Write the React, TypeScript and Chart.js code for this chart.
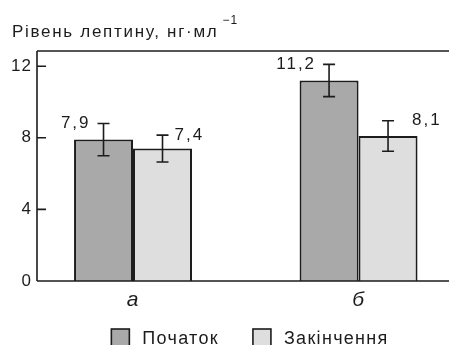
import React, { useEffect, useRef } from 'react';
import { Chart, registerables } from 'chart.js';

Chart.register(...registerables);

const categories = ['а', 'б'];
const seriesNames = ['Початок', 'Закінчення'];
const startValues = [7.9, 11.2];
const endValues = [7.4, 8.1];
const startErrors = [0.9, 0.9];
const endErrors = [0.75, 0.85];
const yTickValues = [0, 4, 8, 12];
const titleText = 'Рівень лептину, нг·мл';
const titleSup = '−1';

const FONT = '"Liberation Sans", Arial, Helvetica, sans-serif';
const INK = '#1c1c1c';
const FILLS = ['#a9a9a9', '#dedede'];
const LS = '1px';

const fmt = (v: number) => v.toFixed(1).replace('.', ',');

const setSpacing = (chart: any) => {
  try { chart.ctx.letterSpacing = LS; } catch (e) {}
};

const decor = {
  id: 'decor',
  beforeLayout(chart: any) { setSpacing(chart); },
  beforeDraw(chart: any) { setSpacing(chart); },
  afterDatasetsDraw(chart: any) {
    const ctx = chart.ctx as CanvasRenderingContext2D;
    const ys = chart.scales.y;
    const area = chart.chartArea;
    const errors = [startErrors, endErrors];
    ctx.save();
    ctx.strokeStyle = INK;
    ctx.lineWidth = 1.6;
    ctx.beginPath();
    ctx.moveTo(area.left, area.top);
    ctx.lineTo(area.right, area.top);
    ctx.moveTo(area.left, area.bottom);
    ctx.lineTo(area.right, area.bottom);
    ctx.moveTo(area.left, area.top);
    ctx.lineTo(area.left, area.bottom);
    yTickValues.forEach((v) => {
      const py = ys.getPixelForValue(v);
      ctx.moveTo(area.left, py);
      ctx.lineTo(area.left + 9, py);
    });
    ctx.stroke();

    chart.data.datasets.forEach((ds: any, di: number) => {
      const meta = chart.getDatasetMeta(di);
      meta.data.forEach((bar: any, i: number) => {
        const v = ds.data[i].y;
        const e = errors[di][i];
        const x = bar.x;
        const top = ys.getPixelForValue(v + e);
        const bot = ys.getPixelForValue(v - e);
        ctx.beginPath();
        ctx.lineWidth = 1.6;
        ctx.moveTo(x, top); ctx.lineTo(x, bot);
        ctx.moveTo(x - 6, top); ctx.lineTo(x + 6, top);
        ctx.moveTo(x - 6, bot); ctx.lineTo(x + 6, bot);
        ctx.stroke();
        ctx.fillStyle = INK;
        ctx.font = `17px ${FONT}`;
        (ctx as any).letterSpacing = '2px';
        ctx.textBaseline = 'middle';
        if (di === 0) {
          ctx.textAlign = 'right';
          ctx.fillText(fmt(v), x - 13, top);
        } else {
          ctx.textAlign = 'left';
          ctx.fillText(fmt(v), x + 12 + (i === 1 ? 12 : 0), top);
        }
      });
    });

    // title
    ctx.fillStyle = INK;
    ctx.textAlign = 'left';
    ctx.textBaseline = 'alphabetic';
    ctx.font = `17px ${FONT}`;
    (ctx as any).letterSpacing = '1.7px';
    ctx.fillText(titleText, 12, 37);
    const tw = ctx.measureText(titleText).width;
    ctx.font = `12px ${FONT}`;
    (ctx as any).letterSpacing = '1px';
    ctx.fillText(titleSup, 12 + tw + 4, 24);

    // legend
    ctx.font = `18px ${FONT}`;
    (ctx as any).letterSpacing = '1.3px';
    const widths = seriesNames.map((n) => ctx.measureText(n).width);
    const box = 18, gap = 13, itemGap = 34;
    const total = widths.reduce((a, w) => a + box + gap + w, 0) + itemGap;
    let lx = (area.left + area.right) / 2 + 7 - total / 2;
    seriesNames.forEach((n, k) => {
      ctx.fillStyle = FILLS[k];
      ctx.fillRect(lx, 329, box, 20);
      ctx.lineWidth = 1.6;
      ctx.strokeRect(lx, 329, box, 20);
      ctx.fillStyle = INK;
      ctx.fillText(n, lx + box + gap, 344);
      lx += box + gap + widths[k] + itemGap;
    });
    ctx.restore();
  },
};

export default function App() {
  const ref = useRef<HTMLCanvasElement>(null);
  useEffect(() => {
    if (!ref.current) return;
    const chart = new Chart(ref.current, {
      type: 'bar',
      data: {
        datasets: [
          {
            label: seriesNames[0],
            data: startValues.map((y, i) => ({ x: i, y })),
            backgroundColor: FILLS[0],
            borderColor: INK,
            borderWidth: 2,
          },
          {
            label: seriesNames[1],
            data: endValues.map((y, i) => ({ x: i, y })),
            backgroundColor: FILLS[1],
            borderColor: INK,
            borderWidth: 2,
          },
        ],
      },
      options: {
        animation: false,
        responsive: true,
        maintainAspectRatio: false,
        layout: { padding: { top: 51, left: 0, right: 0, bottom: 0 } },
        datasets: { bar: { categoryPercentage: 0.523, barPercentage: 1 } },
        plugins: { legend: { display: false }, tooltip: { enabled: false }, title: { display: false } },
        scales: {
          x: {
            type: 'linear',
            offset: false,
            min: -0.4257,
            max: 1.401,
            grid: { display: false, drawTicks: false, offset: false },
            border: { display: false },
            afterBuildTicks: (s: any) => { s.ticks = categories.map((_, i) => ({ value: i })); },
            afterFit: (s: any) => { s.height = 64; },
            ticks: {
              padding: 7,
              color: INK,
              font: { family: FONT, size: 21, style: 'italic' },
              callback: (v: any) => categories[v] ?? '',
            },
          },
          y: {
            min: 0,
            max: 12.85,
            grid: { display: false, drawTicks: false },
            border: { display: false },
            afterBuildTicks: (s: any) => { s.ticks = yTickValues.map((value) => ({ value })); },
            afterFit: (s: any) => { s.width = 37; },
            ticks: {
              padding: 5,
              color: INK,
              font: { family: FONT, size: 17 },
            },
          },
        },
      },
      plugins: [decor],
    } as any);
    return () => chart.destroy();
  }, []);
  return (
    <div style={{ position: 'fixed', left: 0, top: 0, width: 449, height: 345 }}>
      <canvas ref={ref} />
    </div>
  );
}
